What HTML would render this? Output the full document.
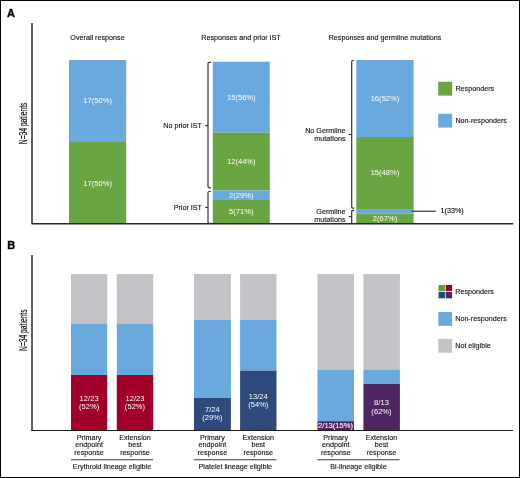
<!DOCTYPE html>
<html><head><meta charset="utf-8">
<style>
html,body{margin:0;padding:0;background:#fff;}
body{width:520px;height:478px;overflow:hidden;}
svg{display:block;will-change:transform;}
text{font-family:"Liberation Sans",sans-serif;}
.t{font-size:7.2px;fill:#111;stroke:#111;stroke-width:0.12;}
.w{font-size:7.5px;fill:#fff;letter-spacing:0.05px;}
.c{text-anchor:middle;}
.e{text-anchor:end;}
.ax{fill:none;stroke:#2a2a2a;stroke-width:1.5;stroke-linejoin:round;}
.br{fill:none;stroke:#333;stroke-width:1.2;stroke-linejoin:round;stroke-linecap:butt;}
</style></head>
<body>
<svg width="520" height="478" viewBox="0 0 520 478">
<rect x="0.5" y="0.5" width="519" height="477" fill="#fff" stroke="#000" stroke-width="1"/>

<!-- ===== Panel A ===== -->
<text x="7.1" y="16.7" style="font-size:11px;font-weight:bold;fill:#000;stroke:#000;stroke-width:0.35">A</text>
<path class="ax" d="M32 23 V223.7 H513.2"/>
<text transform="translate(26.7,123.4) rotate(-90) scale(0.67,1)" text-anchor="middle" style="font-size:10px;fill:#000;stroke:#000;stroke-width:0.15">N=34 patients</text>

<!-- titles -->
<text class="t c" x="97.5" y="40.2">Overall response</text>
<text class="t c" x="241" y="40.2">Responses and prior IST</text>
<text class="t c" x="385" y="40.2">Responses and germline mutations</text>

<!-- bar 1 -->
<rect x="69" y="60" width="57.2" height="82" fill="#6aa9de"/>
<rect x="69" y="142" width="57.2" height="81" fill="#69a542"/>
<text class="w c" x="97.6" y="103.4">17(50%)</text>
<text class="w c" x="97.6" y="185.6">17(50%)</text>

<!-- bar 2 -->
<rect x="212.8" y="61.7" width="57" height="71" fill="#6aa9de"/>
<rect x="212.8" y="132.7" width="57" height="57.8" fill="#69a542"/>
<rect x="212.8" y="190.5" width="57" height="9.4" fill="#6aa9de"/>
<rect x="212.8" y="199.8" width="57" height="23.2" fill="#69a542"/>
<text class="w c" x="241.3" y="99.7">15(56%)</text>
<text class="w c" x="241.3" y="163.8">12(44%)</text>
<text class="w c" x="241.3" y="197.6">2(29%)</text>
<text class="w c" x="241.3" y="214.3">5(71%)</text>

<!-- bar 2 brackets -->
<path class="br" d="M210.8 62.4 H209.2 Q208 62.4 208 63.6 V186.6 Q208 187.8 209.2 187.8 H210.8"/>
<path class="br" d="M205.3 125.6 H208"/>
<path class="br" d="M210.8 191.5 H209.2 Q208 191.5 208 192.7 V222.3 Q208 223.3 209.2 223.3 H210.5"/>
<path class="br" d="M205.3 207.4 H208"/>
<text class="t e" x="202" y="128.2">No prior IST</text>
<text class="t e" x="202" y="210">Prior IST</text>

<!-- bar 3 -->
<rect x="356.3" y="60" width="57.3" height="77" fill="#6aa9de"/>
<rect x="356.3" y="137" width="57.3" height="72" fill="#69a542"/>
<rect x="356.3" y="209" width="57.3" height="4.5" fill="#6aa9de"/>
<rect x="356.3" y="213.5" width="57.3" height="9.5" fill="#69a542"/>
<text class="w c" x="385" y="100.9">16(52%)</text>
<text class="w c" x="385" y="174.8">15(48%)</text>
<text class="w c" x="385" y="221.3">2(67%)</text>

<!-- bar 3 brackets -->
<path class="br" d="M354.2 60.5 H352.9 Q351.7 60.5 351.7 61.7 V207 Q351.7 208.2 352.9 208.2 H354.2"/>
<path class="br" d="M348.8 134.5 H351.7"/>
<path class="br" d="M354.2 210.4 H352.9 Q351.7 210.4 351.7 211.6 V223"/>
<path class="br" d="M348.8 216.7 H351.7"/>
<text class="t e" x="345.5" y="133">No Germline</text>
<text class="t e" x="345.5" y="140.9">mutations</text>
<text class="t e" x="345.5" y="214.4">Germline</text>
<text class="t e" x="345.5" y="221.5">mutations</text>

<!-- leader -->
<path d="M411.7 211.2 H435.8" stroke="#222" stroke-width="1.1"/>
<text class="t" x="440.6" y="213.3">1(33%)</text>

<!-- legend A -->
<rect x="438.2" y="81.8" width="14" height="13.8" fill="#69a542"/>
<rect x="438.2" y="113.8" width="14" height="13.8" fill="#6aa9de"/>
<text class="t" x="455.4" y="91.1">Responders</text>
<text class="t" x="455.4" y="123.3">Non-responders</text>

<!-- ===== Panel B ===== -->
<text x="7.2" y="248.9" style="font-size:11px;font-weight:bold;fill:#000;stroke:#000;stroke-width:0.35">B</text>
<path class="ax" d="M32 255 V430.5" style="stroke:#2a2a2a;stroke-width:1.5"/><path d="M31.3 430.5 H513" style="stroke:#1a1a1a;stroke-width:1.1"/>
<text transform="translate(26.7,330.2) rotate(-90) scale(0.67,1)" text-anchor="middle" style="font-size:10px;fill:#000;stroke:#000;stroke-width:0.15">N=34 patients</text>

<!-- Erythroid -->
<rect x="71" y="274" width="36.2" height="50" fill="#c4c2c7"/>
<rect x="71" y="324" width="36.2" height="51" fill="#6aa9de"/>
<rect x="71" y="375" width="36.2" height="55" fill="#a2002a"/>
<rect x="116.8" y="274" width="36.4" height="50" fill="#c4c2c7"/>
<rect x="116.8" y="324" width="36.4" height="51" fill="#6aa9de"/>
<rect x="116.8" y="375" width="36.4" height="55" fill="#a2002a"/>
<text class="w c" x="89.1" y="401.1">12/23</text>
<text class="w c" x="89.1" y="409.3">(52%)</text>
<text class="w c" x="135" y="401.1">12/23</text>
<text class="w c" x="135" y="409.3">(52%)</text>

<!-- Platelet -->
<rect x="194" y="274" width="36.9" height="46" fill="#c4c2c7"/>
<rect x="194" y="320" width="36.9" height="78" fill="#6aa9de"/>
<rect x="194" y="398" width="36.9" height="32" fill="#2e4a7b"/>
<rect x="240.1" y="274" width="36.4" height="46" fill="#c4c2c7"/>
<rect x="240.1" y="320" width="36.4" height="50.6" fill="#6aa9de"/>
<rect x="240.1" y="370.6" width="36.4" height="59.4" fill="#2e4a7b"/>
<text class="w c" x="212.4" y="412.2">7/24</text>
<text class="w c" x="212.4" y="420.3">(29%)</text>
<text class="w c" x="258.3" y="398.6">13/24</text>
<text class="w c" x="258.3" y="406.9">(54%)</text>

<!-- Bi-lineage -->
<rect x="317.5" y="274" width="36.5" height="95.6" fill="#c4c2c7"/>
<rect x="317.5" y="369.6" width="36.5" height="51.6" fill="#6aa9de"/>
<rect x="317.5" y="421.2" width="36.5" height="8.8" fill="#502662"/>
<rect x="363.4" y="274" width="36.5" height="95.6" fill="#c4c2c7"/>
<rect x="363.4" y="369.6" width="36.5" height="14.4" fill="#6aa9de"/>
<rect x="363.4" y="384" width="36.5" height="46" fill="#502662"/>
<text class="w c" x="335.6" y="427.6" style="font-size:7.6px;letter-spacing:0;stroke:#fff;stroke-width:0.1">2/13(15%)</text>
<text class="w c" x="381.5" y="404.9">8/13</text>
<text class="w c" x="381.5" y="413.8">(62%)</text>

<!-- category labels -->
<g class="t c">
<text x="89.1" y="440">Primary</text><text x="89.1" y="447.4">endpoint</text><text x="89.1" y="454.8">response</text>
<text x="135" y="440">Extension</text><text x="135" y="447.4">best</text><text x="135" y="454.8">response</text>
<text x="212.4" y="440">Primary</text><text x="212.4" y="447.4">endpoint</text><text x="212.4" y="454.8">response</text>
<text x="258.3" y="440">Extension</text><text x="258.3" y="447.4">best</text><text x="258.3" y="454.8">response</text>
<text x="335.7" y="440">Primary</text><text x="335.7" y="447.4">endpoint</text><text x="335.7" y="454.8">response</text>
<text x="381.5" y="440">Extension</text><text x="381.5" y="447.4">best</text><text x="381.5" y="454.8">response</text>
<text x="112" y="469.4">Erythroid lineage eligible</text>
<text x="235.3" y="469.4">Platelet lineage eligible</text>
<text x="358.5" y="469.4">Bi-lineage eligible</text>
</g>
<path d="M71 459.7 H153.1 M194 459.7 H276.5 M317.5 459.7 H399.6" stroke="#3a3a3a" stroke-width="1.1"/>

<!-- legend B -->
<rect x="438.5" y="285" width="6.4" height="6.2" fill="#5fa035"/>
<rect x="445.7" y="285" width="6.4" height="6.2" fill="#a2002a"/>
<rect x="438.5" y="292" width="6.4" height="6.3" fill="#24457e"/>
<rect x="445.7" y="292" width="6.4" height="6.3" fill="#502662"/>
<rect x="438.3" y="311.9" width="13.8" height="13.9" fill="#6aa9de"/>
<rect x="438.3" y="338.8" width="13.8" height="13.9" fill="#c4c2c7"/>
<text class="t" x="455.2" y="294.3">Responders</text>
<text class="t" x="455.2" y="321.3">Non-responders</text>
<text class="t" x="455.2" y="348.2">Not eligible</text>
</svg>
</body></html>
